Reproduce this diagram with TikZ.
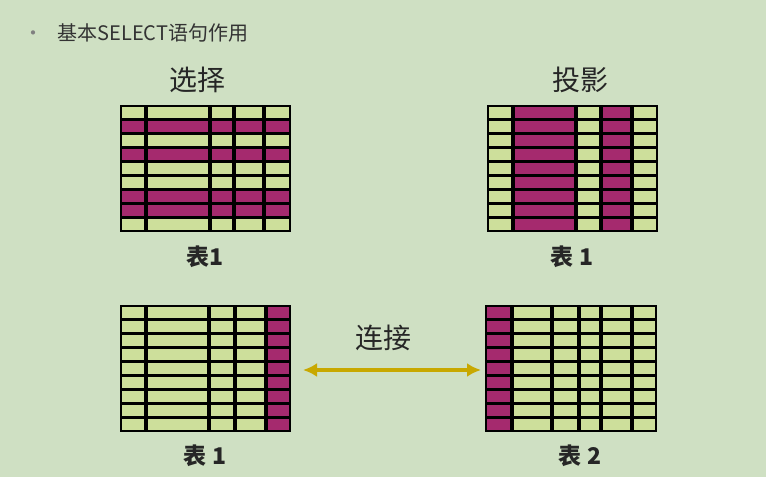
\documentclass[tikz,border=0pt]{standalone}
\usepackage{fontspec}
\usetikzlibrary{arrows.meta}
\setmainfont{Noto Sans CJK SC}
\definecolor{bg}{HTML}{CFE0C3}
\definecolor{cg}{HTML}{CDDF9B}
\definecolor{mg}{HTML}{A52A6E}
\definecolor{au}{HTML}{C8A800}
\tikzset{grid line/.style={black,line width=3.2pt},
 ttl/.style={font=\fontsize{28}{30}\selectfont,text=black!85},
 captxt/.style={font=\fontsize{23}{25}\selectfont\bfseries,text=black!85}}
\newcommand{\mytable}[5]{% x0 y0 x1 y1 {vertical xs}
 \foreach \k in {1,...,8}{\draw[grid line] (#1,{#2+\k*(#4-#2)/9}) -- (#3,{#2+\k*(#4-#2)/9});}
 \foreach \v in {#5}{\draw[grid line] (\v,#2-1) -- (\v,#4+1);}
 \draw[grid line,line width=2pt] (#1,#2) rectangle (#3,#4);}
\begin{document}
\begin{tikzpicture}[x=1pt,y=-1pt]
\fill[bg] (0,0) rectangle (766,477);
\useasboundingbox (0,0) rectangle (766,477);
\node[anchor=west,font=\fontsize{20}{22}\selectfont,text=black!80] (hd) at (20,33) {\textcolor{black!50}{•}\hspace{14pt}基本SELECT语句作用};
% table 1: selection
\fill[cg] (121,106) rectangle (290,231);
\foreach \r in {1,3,6,7}{\fill[mg] (121,{106+\r*125/9}) rectangle (290,{106+(\r+1)*125/9});}
\mytable{121}{106}{290}{231}{146,210,234,264}
\node[ttl] (t1) at (197,80) {选择};
\node[captxt] (c1) at (205,257) {表1};
% table 2: projection
\fill[cg] (488,106) rectangle (657,231);
\fill[mg] (513,106) rectangle (576,231);
\fill[mg] (601,106) rectangle (632,231);
\mytable{488}{106}{657}{231}{513,576,601,632}
\node[ttl] (t2) at (580,80) {投影};
\node[captxt] (c2) at (572,257) {表 1};
% table 3
\fill[cg] (121,306) rectangle (290,431);
\fill[mg] (266,306) rectangle (290,431);
\mytable{121}{306}{290}{431}{146,209,235,266}
\node[captxt] (c3) at (205,456) {表 1};
% table 4
\fill[cg] (486,306) rectangle (656,431);
\fill[mg] (486,306) rectangle (512,431);
\mytable{486}{306}{656}{431}{512,552,579,601,632}
\node[captxt] (c4) at (580,456) {表 2};
% join
\node[ttl] (j) at (383,338) {连接};
\coordinate (a) at (303,370);
\coordinate (b) at (481,370);
\draw[au,line width=4.5pt,{Latex[length=14pt,width=14pt]}-{Latex[length=14pt,width=14pt]}] (a) -- (b);
\end{tikzpicture}
\end{document}
